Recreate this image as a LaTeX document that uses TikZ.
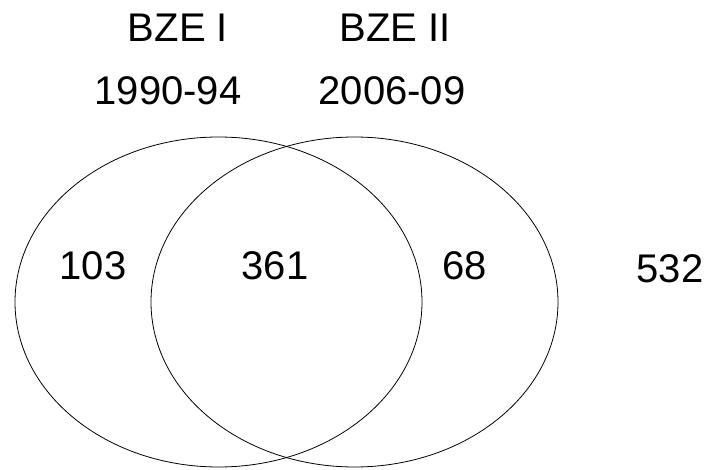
\documentclass[tikz,border=0pt]{standalone}
\usepackage{fontspec}
\setmainfont{Liberation Sans}
\usetikzlibrary{shapes.geometric}
\begin{document}
\begin{tikzpicture}[x=1pt,y=1pt,
  setellipse/.style={ellipse, draw=black, line width=0.8pt, inner sep=0pt,
    minimum width=407pt, minimum height=330pt},
  lbl/.style={anchor=base, inner sep=0pt, font=\fontsize{40}{48}\selectfont}]
  \useasboundingbox (0,0) rectangle (710,469);
  % the two survey sets
  \node[setellipse] (bzeone) at (218.5,167) {};
  \node[setellipse] (bzetwo) at (354.5,167) {};
  % headings
  \node[lbl] (t1) at (178,427) {BZE I};
  \node[lbl] (t2) at (395,427) {BZE II};
  \node[lbl] (y1) at (168,364) {1990-94};
  \node[lbl] (y2) at (392,364) {2006-09};
  % counts
  \node[lbl] (onlyone) at (93,189) {103};
  \node[lbl] (both) at (275,189) {361};
  \node[lbl] (onlytwo) at (465,189) {68};
  \node[lbl] (neither) at (670,186) {532};
\end{tikzpicture}
\end{document}
